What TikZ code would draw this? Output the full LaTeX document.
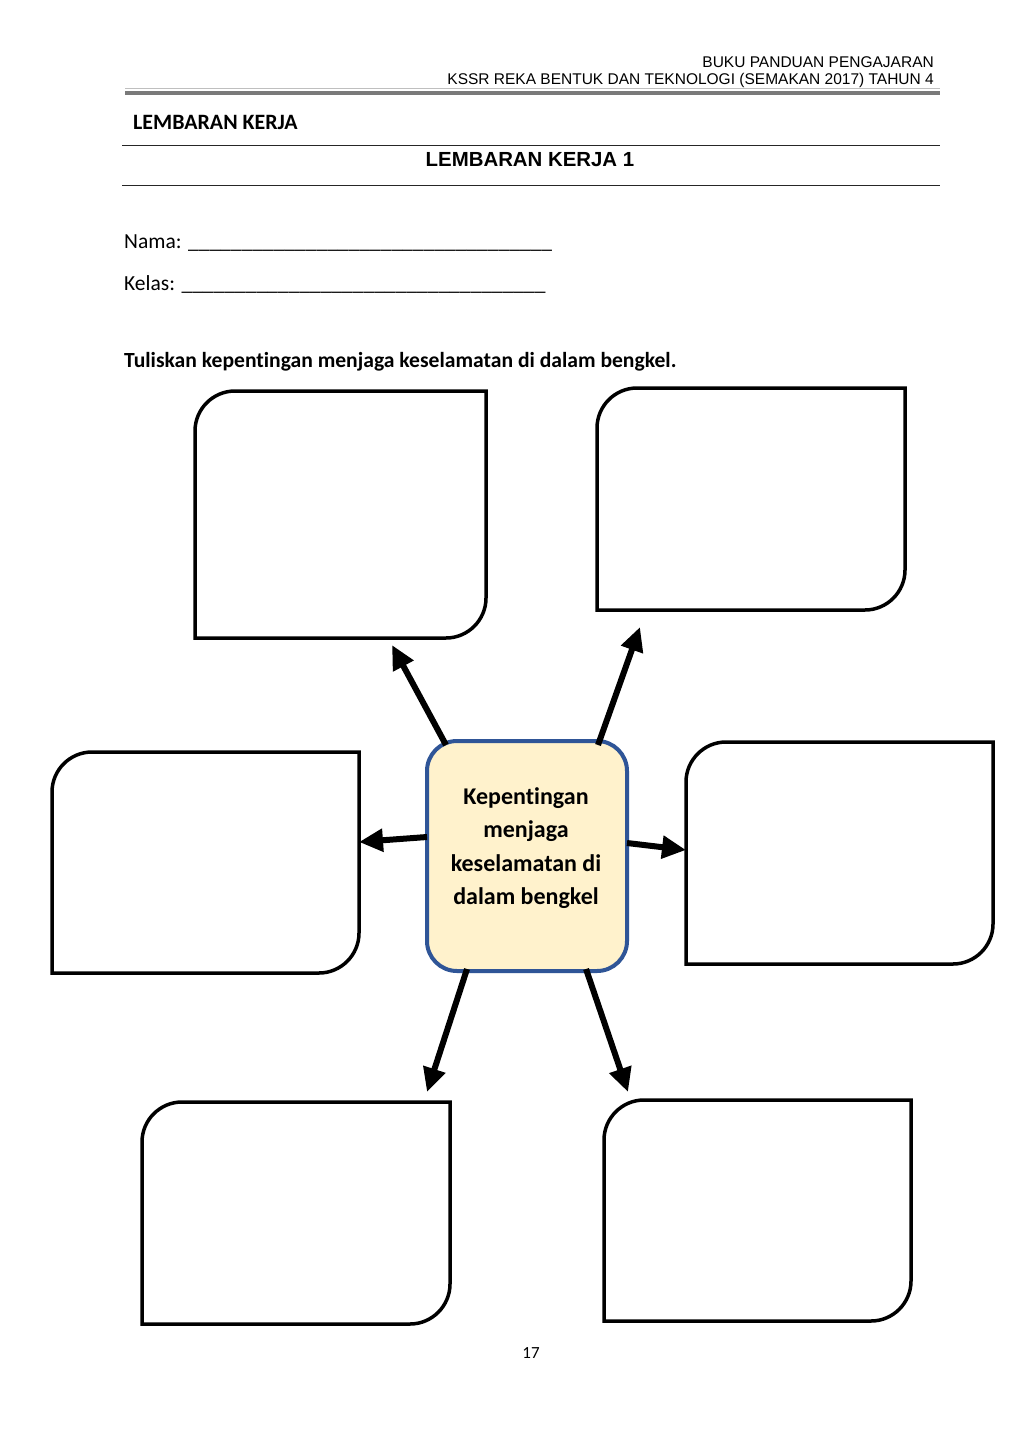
\documentclass[tikz,border=0pt]{standalone}
\usepackage{fontspec}
\setmainfont{Carlito}[Ligatures={NoCommon}]
\newfontfamily\arialf{Liberation Sans}
\usetikzlibrary{arrows.meta,calc}
\definecolor{ctrfill}{HTML}{FFF2CC}
\definecolor{ctrdraw}{HTML}{2F5597}
\newcommand\ansoutline[1]{%
  \draw[boxline] ($(#1.north west)+(0,40)$) .. controls ($(#1.north west)+(0,18)$) and ($(#1.north west)+(18,0)$) .. ($(#1.north west)+(40,0)$)
    -- (#1.north east) -- ($(#1.south east)+(0,-40)$)
    .. controls ($(#1.south east)+(0,-18)$) and ($(#1.south east)+(-18,0)$) .. ($(#1.south east)+(-40,0)$)
    -- (#1.south west) -- cycle;}
\tikzset{
  ansbox/.style={rectangle,draw=none,inner sep=0pt,outer sep=0pt,anchor=north west},
  boxline/.style={line width=3.5pt,black},
  arr/.style={line width=6pt,-{Triangle[length=24pt,width=22pt]}},
  hdr/.style={inner sep=0pt,font=\arialf\fontsize{15.5}{18}\selectfont},
  body/.style={inner sep=0pt,font=\fontsize{21.5}{25}\selectfont},
}
\begin{document}
\begin{tikzpicture}[x=1pt,y=-1pt]
\useasboundingbox[fill=white] (0,0) rectangle (1023,1447);
% header
\node[hdr,anchor=base east] (h1) at (934,67.5) {BUKU PANDUAN PENGAJARAN};
\node[hdr,anchor=base east] (h2) at (934,85) {KSSR REKA BENTUK DAN TEKNOLOGI (SEMAKAN 2017) TAHUN 4};
\draw[line width=1.2pt,color=black!25] (125,88.8) -- (940,88.8);
\draw[line width=4pt,color=black!52] (125,93.3) -- (940,93.3);
\node[inner sep=0pt,anchor=base west,font=\bfseries\fontsize{21.9}{25}\selectfont] (lk) at (133,130) {LEMBARAN KERJA};
\draw[line width=1.2pt,color=black!85] (122,145.5) -- (940,145.5);
\node[inner sep=0pt,anchor=base,font=\arialf\bfseries\fontsize{20.4}{24}\selectfont] (lk1) at (530,167) {LEMBARAN KERJA 1};
\draw[line width=1.2pt,color=black!85] (122,185.5) -- (940,185.5);
\node[body,anchor=base west] (nama) at (124,249) {Nama: \_\_\_\_\_\_\_\_\_\_\_\_\_\_\_\_\_\_\_\_\_\_\_\_\_\_\_\_\_\_\_\_\_\_};
\node[body,anchor=base west] (kelas) at (124,290) {Kelas: \_\_\_\_\_\_\_\_\_\_\_\_\_\_\_\_\_\_\_\_\_\_\_\_\_\_\_\_\_\_\_\_\_\_};
\node[inner sep=0pt,anchor=base west,font=\bfseries\fontsize{21.6}{25}\selectfont] (inst) at (124,367) {Tuliskan kepentingan menjaga keselamatan di dalam bengkel.};
% answer boxes
\node[ansbox,minimum width=291pt,minimum height=247pt] (b1) at (195,391) {};
\node[ansbox,minimum width=308pt,minimum height=222pt] (b2) at (597,388) {};
\node[ansbox,minimum width=307pt,minimum height=221pt] (b3) at (52,752) {};
\node[ansbox,minimum width=307pt,minimum height=222pt] (b4) at (686,742) {};
\node[ansbox,minimum width=308pt,minimum height=222pt] (b5) at (142,1102) {};
\node[ansbox,minimum width=307pt,minimum height=221pt] (b6) at (604,1100) {};
\ansoutline{b1}
\ansoutline{b2}
\ansoutline{b3}
\ansoutline{b4}
\ansoutline{b5}
\ansoutline{b6}
% centre
\node[rectangle,rounded corners=30pt,fill=ctrfill,draw=ctrdraw,line width=4pt,minimum width=200pt,minimum height=230pt,inner sep=0pt,outer sep=0pt] (ctr) at (527,856) {};
\node[inner sep=0pt,align=center,font=\bfseries\fontsize{24}{33.5}\selectfont] (ctrtext) at (526,848) {Kepentingan\\menjaga\\keselamatan di\\dalam bengkel};
% arrows
\coordinate (t1) at (392,645);
\coordinate (t2) at (640,627);
\coordinate (t5) at (427,1092);
\coordinate (t6) at (628,1092);
\draw[arr] ($(ctr.north west)+(19,4)$) -- (t1);
\draw[arr] ($(ctr.north east)+(-29,4)$) -- (t2);
\draw[arr] ($(ctr.west)+(0,-19)$) -- (b3.east |- 0,842);
\draw[arr] ($(ctr.east)+(0,-13)$) -- (b4.west |- 0,850);
\draw[arr] ($(ctr.south west)+(40,-2)$) -- (t5);
\draw[arr] ($(ctr.south east)+(-41,-2)$) -- (t6);
\node[body,anchor=base] (pg) at (531,1358) {\fontsize{17}{20}\selectfont 17};
\end{tikzpicture}
\end{document}
